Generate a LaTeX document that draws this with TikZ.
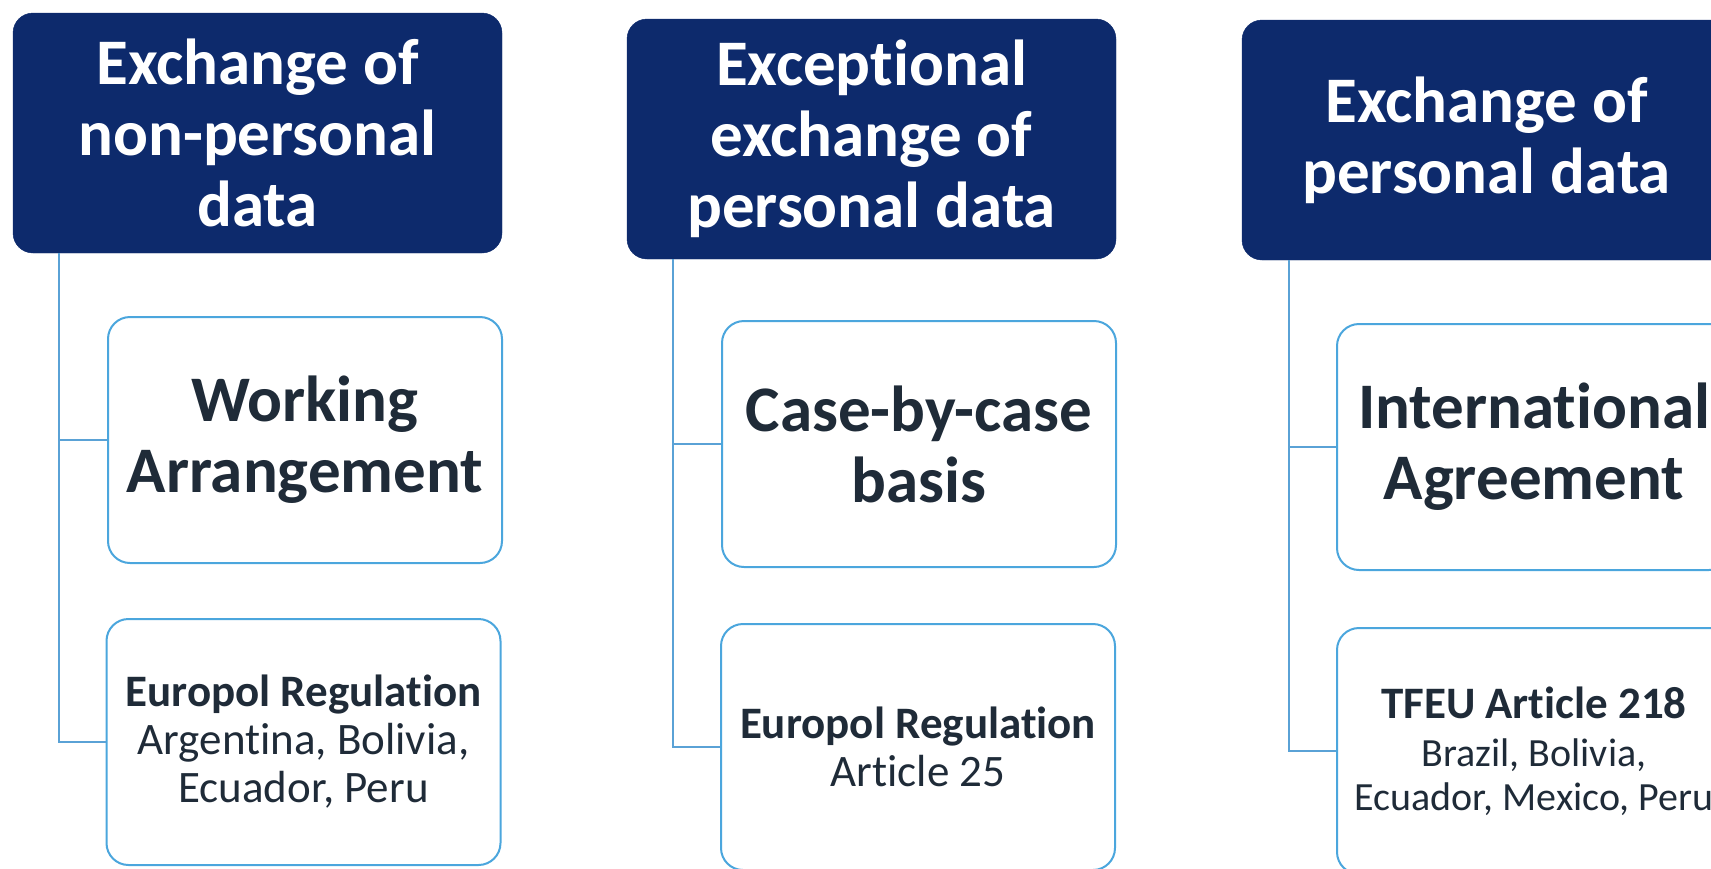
\documentclass[tikz,border=0pt]{standalone}
\usepackage{fontspec}
\setmainfont{Carlito}[Ligatures=NoCommon]
\definecolor{navy}{HTML}{0D2A6C}
\definecolor{edgeblue}{HTML}{4BA6DD}
\definecolor{connblue}{HTML}{5AA2D6}
\definecolor{boxtext}{HTML}{1F2B38}
\newcommand\ctrysize{\fontsize{40}{44}\selectfont}
\begin{document}
\begin{tikzpicture}[x=1pt,y=-1pt,
  header/.style={rectangle, rounded corners=20pt, fill=navy, draw=navy, text=white,
    minimum width=489pt, minimum height=240pt, align=center, inner sep=0pt,
    font=\fontsize{65}{71}\selectfont\bfseries},
  topbox/.style={rectangle, rounded corners=22pt, draw=edgeblue, line width=2pt, fill=white,
    minimum width=394pt, minimum height=246pt, align=center, inner sep=0pt, text=boxtext,
    font=\fontsize{65}{71}\selectfont\bfseries},
  lowbox/.style={rectangle, rounded corners=22pt, draw=edgeblue, line width=2pt, fill=white,
    minimum width=394pt, minimum height=246pt, align=center, inner sep=0pt, text=boxtext,
    font=\fontsize{45}{48}\selectfont},
  conn/.style={draw=connblue, line width=1.6pt}]
\useasboundingbox (0,0) rectangle (1711,868);
\clip (0,0) rectangle (1711,868);
% column 1
\node[header] (h1) at (257.5,133) {Exchange of\\non-personal\\data};
\node[topbox] (b11) at (305,440) {Working\\Arrangement};
\node[lowbox] (b12) at (303.5,742) {\textbf{Europol Regulation}\\Argentina, Bolivia,\\Ecuador, Peru};
\draw[conn] ([xshift=46pt]h1.south west) |- (b11.west);
\draw[conn] ([xshift=46pt]h1.south west) |- (b12.west);
% column 2
\node[header] (h2) at (871.5,139) {Exceptional\\exchange of\\personal data};
\node[topbox] (b21) at (919,444) {Case-by-case\\basis};
\node[lowbox] (b22) at (918,747) {\textbf{Europol Regulation}\\Article 25};
\draw[conn] ([xshift=46pt]h2.south west) |- (b21.west);
\draw[conn] ([xshift=46pt]h2.south west) |- (b22.west);
% column 3
\node[header] (h3) at (1486.5,140) {Exchange of\\personal data};
\node[topbox] (b31) at (1534,447) {International\\Agreement};
\node[lowbox] (b32) at (1534,751) {\textbf{TFEU Article 218}\\{\ctrysize Brazil, Bolivia,}\\[-4pt]{\ctrysize Ecuador, Mexico, Peru}};
\draw[conn] ([xshift=47pt]h3.south west) |- (b31.west);
\draw[conn] ([xshift=47pt]h3.south west) |- (b32.west);
\end{tikzpicture}
\end{document}
